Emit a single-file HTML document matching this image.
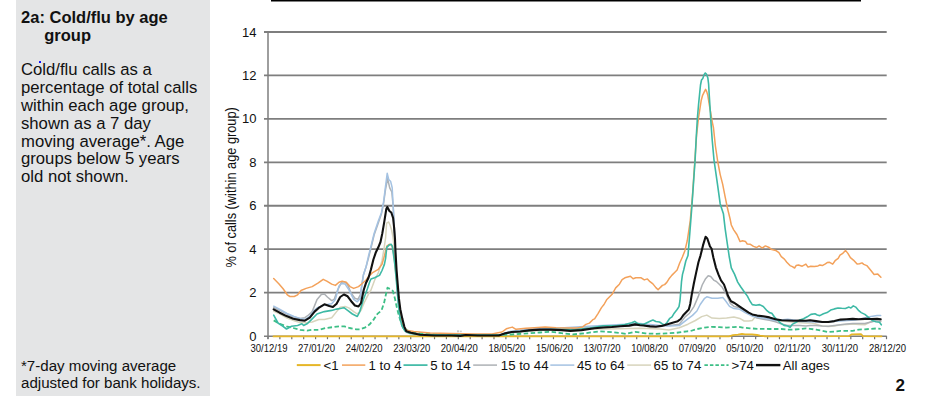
<!DOCTYPE html>
<html><head><meta charset="utf-8"><style>
html,body{margin:0;padding:0;background:#fff;}
body{width:926px;height:410px;position:relative;overflow:hidden;font-family:"Liberation Sans",Arial,sans-serif;color:#111;}
.side{position:absolute;left:16px;top:0;width:194px;height:396px;background:#E4E5E6;}
.t{position:absolute;left:5.1px;top:8.4px;font-weight:bold;font-size:16.5px;line-height:18px;width:186px;}
.t .g{display:block;padding-left:23.2px;}
.b{position:absolute;left:5px;top:61.1px;font-size:16.7px;line-height:17.88px;width:200px;white-space:nowrap;}
.f{position:absolute;left:5px;top:356.9px;font-size:15.1px;line-height:17.6px;width:200px;white-space:nowrap;}
.dot{position:absolute;left:22.5px;top:60.5px;width:2px;height:2px;background:#0000ff;border-radius:0.5px;}
svg{position:absolute;left:0;top:0;}
svg text{font-family:"Liberation Sans",Arial,sans-serif;fill:#111;}
.yl{font-size:13px;}
.xl{font-size:11px;}
.lg{font-size:13.2px;}
.yt{font-size:14px;}
.pn{font-size:17px;font-weight:bold;}
</style></head><body>
<div class="side">
<div class="t">2a: Cold/flu by age<span class="g">group</span></div>
<div class="b">Cold/flu calls as a<br>percentage of total calls<br>within each age group,<br>shown as a 7 day<br>moving average*. Age<br>groups below 5 years<br>old not shown.</div>
<div class="dot"></div>
<div class="f">*7-day moving average<br>adjusted for bank holidays.</div>
</div>
<svg width="926" height="410" viewBox="0 0 926 410">
<line x1="264" y1="292.66" x2="886.7" y2="292.66" stroke="#7E7E7E" stroke-width="1.8"/>
<line x1="264" y1="249.21" x2="886.7" y2="249.21" stroke="#7E7E7E" stroke-width="1.8"/>
<line x1="264" y1="205.77" x2="886.7" y2="205.77" stroke="#7E7E7E" stroke-width="1.8"/>
<line x1="264" y1="162.33" x2="886.7" y2="162.33" stroke="#7E7E7E" stroke-width="1.8"/>
<line x1="264" y1="118.89" x2="886.7" y2="118.89" stroke="#7E7E7E" stroke-width="1.8"/>
<line x1="264" y1="75.44" x2="886.7" y2="75.44" stroke="#7E7E7E" stroke-width="1.8"/>
<line x1="264" y1="32.00" x2="886.7" y2="32.00" stroke="#7E7E7E" stroke-width="1.8"/>
<text x="256.5" y="340.70" text-anchor="end" class="yl">0</text>
<text x="256.5" y="297.26" text-anchor="end" class="yl">2</text>
<text x="256.5" y="253.81" text-anchor="end" class="yl">4</text>
<text x="256.5" y="210.37" text-anchor="end" class="yl">6</text>
<text x="256.5" y="166.93" text-anchor="end" class="yl">8</text>
<text x="256.5" y="123.49" text-anchor="end" class="yl">10</text>
<text x="256.5" y="80.04" text-anchor="end" class="yl">12</text>
<text x="256.5" y="36.60" text-anchor="end" class="yl">14</text>
<line x1="268.00" y1="336" x2="268.00" y2="339.2" stroke="#707070" stroke-width="1.2"/>
<line x1="279.89" y1="336" x2="279.89" y2="339.2" stroke="#707070" stroke-width="1.2"/>
<line x1="291.79" y1="336" x2="291.79" y2="339.2" stroke="#707070" stroke-width="1.2"/>
<line x1="303.68" y1="336" x2="303.68" y2="339.2" stroke="#707070" stroke-width="1.2"/>
<line x1="315.58" y1="336" x2="315.58" y2="339.2" stroke="#707070" stroke-width="1.2"/>
<line x1="327.47" y1="336" x2="327.47" y2="339.2" stroke="#707070" stroke-width="1.2"/>
<line x1="339.37" y1="336" x2="339.37" y2="339.2" stroke="#707070" stroke-width="1.2"/>
<line x1="351.26" y1="336" x2="351.26" y2="339.2" stroke="#707070" stroke-width="1.2"/>
<line x1="363.15" y1="336" x2="363.15" y2="339.2" stroke="#707070" stroke-width="1.2"/>
<line x1="375.05" y1="336" x2="375.05" y2="339.2" stroke="#707070" stroke-width="1.2"/>
<line x1="386.94" y1="336" x2="386.94" y2="339.2" stroke="#707070" stroke-width="1.2"/>
<line x1="398.84" y1="336" x2="398.84" y2="339.2" stroke="#707070" stroke-width="1.2"/>
<line x1="410.73" y1="336" x2="410.73" y2="339.2" stroke="#707070" stroke-width="1.2"/>
<line x1="422.62" y1="336" x2="422.62" y2="339.2" stroke="#707070" stroke-width="1.2"/>
<line x1="434.52" y1="336" x2="434.52" y2="339.2" stroke="#707070" stroke-width="1.2"/>
<line x1="446.41" y1="336" x2="446.41" y2="339.2" stroke="#707070" stroke-width="1.2"/>
<line x1="458.31" y1="336" x2="458.31" y2="339.2" stroke="#707070" stroke-width="1.2"/>
<line x1="470.20" y1="336" x2="470.20" y2="339.2" stroke="#707070" stroke-width="1.2"/>
<line x1="482.10" y1="336" x2="482.10" y2="339.2" stroke="#707070" stroke-width="1.2"/>
<line x1="493.99" y1="336" x2="493.99" y2="339.2" stroke="#707070" stroke-width="1.2"/>
<line x1="505.88" y1="336" x2="505.88" y2="339.2" stroke="#707070" stroke-width="1.2"/>
<line x1="517.78" y1="336" x2="517.78" y2="339.2" stroke="#707070" stroke-width="1.2"/>
<line x1="529.67" y1="336" x2="529.67" y2="339.2" stroke="#707070" stroke-width="1.2"/>
<line x1="541.57" y1="336" x2="541.57" y2="339.2" stroke="#707070" stroke-width="1.2"/>
<line x1="553.46" y1="336" x2="553.46" y2="339.2" stroke="#707070" stroke-width="1.2"/>
<line x1="565.36" y1="336" x2="565.36" y2="339.2" stroke="#707070" stroke-width="1.2"/>
<line x1="577.25" y1="336" x2="577.25" y2="339.2" stroke="#707070" stroke-width="1.2"/>
<line x1="589.14" y1="336" x2="589.14" y2="339.2" stroke="#707070" stroke-width="1.2"/>
<line x1="601.04" y1="336" x2="601.04" y2="339.2" stroke="#707070" stroke-width="1.2"/>
<line x1="612.93" y1="336" x2="612.93" y2="339.2" stroke="#707070" stroke-width="1.2"/>
<line x1="624.83" y1="336" x2="624.83" y2="339.2" stroke="#707070" stroke-width="1.2"/>
<line x1="636.72" y1="336" x2="636.72" y2="339.2" stroke="#707070" stroke-width="1.2"/>
<line x1="648.62" y1="336" x2="648.62" y2="339.2" stroke="#707070" stroke-width="1.2"/>
<line x1="660.51" y1="336" x2="660.51" y2="339.2" stroke="#707070" stroke-width="1.2"/>
<line x1="672.40" y1="336" x2="672.40" y2="339.2" stroke="#707070" stroke-width="1.2"/>
<line x1="684.30" y1="336" x2="684.30" y2="339.2" stroke="#707070" stroke-width="1.2"/>
<line x1="696.19" y1="336" x2="696.19" y2="339.2" stroke="#707070" stroke-width="1.2"/>
<line x1="708.09" y1="336" x2="708.09" y2="339.2" stroke="#707070" stroke-width="1.2"/>
<line x1="719.98" y1="336" x2="719.98" y2="339.2" stroke="#707070" stroke-width="1.2"/>
<line x1="731.88" y1="336" x2="731.88" y2="339.2" stroke="#707070" stroke-width="1.2"/>
<line x1="743.77" y1="336" x2="743.77" y2="339.2" stroke="#707070" stroke-width="1.2"/>
<line x1="755.66" y1="336" x2="755.66" y2="339.2" stroke="#707070" stroke-width="1.2"/>
<line x1="767.56" y1="336" x2="767.56" y2="339.2" stroke="#707070" stroke-width="1.2"/>
<line x1="779.45" y1="336" x2="779.45" y2="339.2" stroke="#707070" stroke-width="1.2"/>
<line x1="791.35" y1="336" x2="791.35" y2="339.2" stroke="#707070" stroke-width="1.2"/>
<line x1="803.24" y1="336" x2="803.24" y2="339.2" stroke="#707070" stroke-width="1.2"/>
<line x1="815.13" y1="336" x2="815.13" y2="339.2" stroke="#707070" stroke-width="1.2"/>
<line x1="827.03" y1="336" x2="827.03" y2="339.2" stroke="#707070" stroke-width="1.2"/>
<line x1="838.92" y1="336" x2="838.92" y2="339.2" stroke="#707070" stroke-width="1.2"/>
<line x1="850.82" y1="336" x2="850.82" y2="339.2" stroke="#707070" stroke-width="1.2"/>
<line x1="862.71" y1="336" x2="862.71" y2="339.2" stroke="#707070" stroke-width="1.2"/>
<line x1="874.61" y1="336" x2="874.61" y2="339.2" stroke="#707070" stroke-width="1.2"/>
<line x1="886.50" y1="336" x2="886.50" y2="339.2" stroke="#707070" stroke-width="1.2"/>
<text transform="translate(269.00,351.6) scale(0.865,1)" text-anchor="middle" class="xl">30/12/19</text>
<text transform="translate(316.58,351.6) scale(0.865,1)" text-anchor="middle" class="xl">27/01/20</text>
<text transform="translate(364.15,351.6) scale(0.865,1)" text-anchor="middle" class="xl">24/02/20</text>
<text transform="translate(411.73,351.6) scale(0.865,1)" text-anchor="middle" class="xl">23/03/20</text>
<text transform="translate(459.31,351.6) scale(0.865,1)" text-anchor="middle" class="xl">20/04/20</text>
<text transform="translate(506.88,351.6) scale(0.865,1)" text-anchor="middle" class="xl">18/05/20</text>
<text transform="translate(554.46,351.6) scale(0.865,1)" text-anchor="middle" class="xl">15/06/20</text>
<text transform="translate(602.04,351.6) scale(0.865,1)" text-anchor="middle" class="xl">13/07/20</text>
<text transform="translate(649.62,351.6) scale(0.865,1)" text-anchor="middle" class="xl">10/08/20</text>
<text transform="translate(697.19,351.6) scale(0.865,1)" text-anchor="middle" class="xl">07/09/20</text>
<text transform="translate(744.77,351.6) scale(0.865,1)" text-anchor="middle" class="xl">05/10/20</text>
<text transform="translate(792.35,351.6) scale(0.865,1)" text-anchor="middle" class="xl">02/11/20</text>
<text transform="translate(839.92,351.6) scale(0.865,1)" text-anchor="middle" class="xl">30/11/20</text>
<text transform="translate(887.50,351.6) scale(0.865,1)" text-anchor="middle" class="xl">28/12/20</text>
<line x1="264" y1="336.3" x2="886.7" y2="336.3" stroke="#7E7E7E" stroke-width="1.6"/>
<line x1="268" y1="31.3" x2="268" y2="339" stroke="#7E7E7E" stroke-width="1.5"/>
<polyline points="273.5,336.4 500.0,336.4 729.0,336.3 733.0,335.2 738.0,334.6 742.0,333.9 745.0,334.4 752.0,334.4 757.0,335.0 760.0,335.7 765.0,336.3 849.0,336.1 851.5,334.4 861.0,334.2 863.0,336.1 881.5,336.3" fill="none" stroke="#E6B628" stroke-width="1.8" stroke-linejoin="round" stroke-linecap="round"/>
<polyline points="273.7,311.0 280.0,314.0 287.0,318.0 295.0,321.0 300.0,322.5 306.0,322.7 312.2,322.0 318.8,319.5 324.4,319.5 331.7,317.7 336.6,311.6 340.2,307.3 345.1,306.5 348.8,307.9 353.7,311.6 357.3,314.0 361.0,310.4 364.6,301.8 369.5,292.1 371.0,290.0 374.6,280.2 378.3,272.9 382.0,260.7 383.8,249.8 385.6,238.0 386.6,223.1 388.7,222.0 390.2,225.5 391.6,230.0 392.8,236.0 393.8,244.0 394.7,252.0 395.6,263.0 396.5,275.0 397.5,288.0 398.7,300.0 400.2,312.0 402.2,322.0 405.0,330.0 412.0,333.5 450.0,334.8 500.0,335.0 510.0,332.5 530.0,331.0 560.0,329.5 600.0,329.0 620.5,328.8 640.0,328.3 660.0,329.0 669.0,330.0 679.3,327.8 688.0,324.2 695.4,320.5 701.7,316.6 706.8,315.1 712.0,318.1 719.3,318.4 726.6,318.1 733.9,316.9 739.8,318.4 744.2,321.0 748.7,321.1 752.3,320.5 754.8,317.4 759.6,317.4 769.4,319.3 781.6,321.1 793.8,322.3 806.0,322.9 810.0,322.7 816.1,324.1 822.2,326.0 828.3,326.6 834.4,326.0 840.5,324.8 846.6,324.4 852.7,324.1 858.8,324.4 864.9,324.8 871.0,321.7 877.1,320.2 880.7,321.7" fill="none" stroke="#D7D4BC" stroke-width="1.5" stroke-linejoin="round" stroke-linecap="round"/>
<polyline points="273.7,307.5 280.0,310.5 287.0,314.0 294.0,317.0 300.0,318.5 304.9,317.7 308.5,315.0 312.2,311.6 317.1,299.4 321.3,294.5 324.4,293.9 327.4,297.0 331.7,300.6 334.1,299.4 337.8,289.6 341.5,282.3 344.5,281.7 347.6,284.8 351.2,293.3 354.9,298.2 357.9,299.4 360.4,294.5 362.2,282.3 363.4,275.0 366.0,267.0 368.5,258.0 371.0,248.0 374.1,235.0 378.3,223.0 381.4,214.0 383.5,204.0 385.6,189.0 387.6,178.5 389.7,187.8 391.8,192.0 393.2,206.5 394.3,227.2 395.3,250.0 396.5,275.0 398.0,300.0 400.0,318.0 403.0,328.0 407.0,332.5 420.0,334.5 450.0,335.0 500.0,335.0 510.0,332.0 530.0,330.0 560.0,329.0 600.0,327.5 640.0,325.0 660.0,326.0 670.0,325.5 679.3,324.2 685.1,316.9 689.5,313.2 693.9,306.6 698.3,296.4 702.2,285.0 705.6,278.7 708.2,275.8 710.7,276.4 714.1,280.4 716.4,281.5 719.0,284.0 722.2,287.3 726.6,294.6 730.3,303.4 733.9,306.4 739.8,307.8 745.6,311.5 750.0,314.4 757.2,318.0 763.3,319.3 769.4,320.2 775.5,321.7 781.6,324.1 787.7,325.4 793.8,325.4 799.9,325.6 806.0,326.0 810.0,325.4 816.1,325.4 822.2,326.0 828.3,326.3 834.4,325.6 840.5,324.8 846.6,324.1 852.7,323.5 858.8,323.5 864.9,323.5 871.0,322.0 877.1,320.5 880.7,321.1" fill="none" stroke="#ADB1B5" stroke-width="1.5" stroke-linejoin="round" stroke-linecap="round"/>
<polyline points="273.7,306.2 280.0,309.5 287.0,313.5 294.0,316.5 300.0,318.5 305.0,319.5 310.0,316.0 314.0,310.5 317.0,308.0 324.4,304.9 331.7,303.7 335.4,299.4 339.0,286.0 341.5,283.5 345.1,284.1 348.8,289.6 353.7,299.4 357.3,301.8 360.4,298.2 361.6,287.2 363.4,275.0 366.1,266.8 368.5,255.9 371.0,246.1 374.1,233.5 378.3,221.0 381.4,212.7 383.5,202.3 385.6,185.7 387.2,173.3 388.7,179.5 390.7,181.6 392.2,187.8 393.2,206.5 394.3,227.2 395.3,250.0 396.3,275.0 397.5,295.0 399.0,310.0 401.0,320.0 404.0,328.0 408.0,332.0 420.0,334.3 450.0,335.0 500.0,335.0 510.0,331.5 530.0,329.0 560.0,327.9 597.1,325.7 640.0,323.5 660.0,325.5 670.0,326.0 679.3,325.6 686.6,319.8 692.5,315.4 696.9,311.0 700.2,304.5 704.6,298.3 706.8,296.8 712.0,298.3 717.8,298.3 723.0,297.6 725.9,301.2 729.5,306.4 733.9,308.6 739.8,309.3 745.6,312.9 752.3,316.2 763.3,318.0 775.5,320.5 787.7,319.3 793.8,319.9 799.9,321.5 815.0,322.0 822.0,322.0 840.0,321.0 855.0,320.0 864.9,318.0 871.0,316.6 877.1,315.6 880.7,315.6" fill="none" stroke="#A4C2E2" stroke-width="1.5" stroke-linejoin="round" stroke-linecap="round"/>
<polyline points="273.7,320.4 279.7,323.8 286.5,326.3 293.3,328.0 300.1,329.8 307.0,330.6 312.0,329.8 318.8,329.8 325.7,328.0 332.5,327.2 339.3,326.3 344.4,326.3 349.6,328.0 356.4,329.4 360.0,329.3 365.4,327.3 369.4,324.6 373.4,319.9 377.4,313.9 381.5,310.5 384.2,302.4 386.2,293.1 387.5,287.7 390.2,289.0 392.9,291.0 394.9,298.4 396.9,307.8 398.9,315.9 401.6,323.9 404.3,328.0 408.3,331.3 420.0,333.3 440.0,334.5 480.0,335.0 500.0,335.0 507.4,334.7 523.6,333.6 539.8,332.5 550.6,331.8 561.4,333.1 573.0,334.4 585.9,333.1 598.9,331.4 607.5,331.8 620.5,333.1 625.7,333.9 635.0,331.8 645.4,333.4 655.7,333.8 666.1,333.4 676.5,332.8 686.9,331.3 690.0,331.2 697.3,329.0 704.6,327.6 712.0,326.9 719.3,327.1 726.6,327.6 733.9,327.1 738.3,326.6 742.7,327.6 750.0,328.3 757.2,328.8 769.4,329.0 781.6,329.0 787.7,329.6 793.8,329.6 799.9,329.0 806.0,328.4 810.0,328.8 816.1,329.6 822.2,330.9 828.3,332.1 834.4,331.5 840.5,330.9 852.7,330.9 858.8,329.6 864.9,329.3 871.0,328.8 877.1,328.4 880.7,328.8" fill="none" stroke="#3DBF86" stroke-width="1.8" stroke-linejoin="round" stroke-dasharray="4.5 2.5" stroke-linecap="butt"/>
<polyline points="273.7,278.5 278.8,283.7 283.1,288.8 287.3,294.8 289.9,296.5 294.2,296.5 297.6,294.8 301.0,290.5 306.1,288.4 312.2,286.6 318.3,282.9 323.2,279.3 326.8,281.1 331.7,284.1 335.4,285.4 339.0,282.3 342.1,281.1 346.3,282.3 350.0,286.6 353.7,288.4 358.5,286.6 362.2,283.5 365.9,280.3 368.5,276.6 372.2,272.9 378.3,269.3 382.0,264.4 384.4,255.9 386.8,246.1 389.3,244.3 391.1,244.9 392.5,247.0 394.0,256.0 395.3,268.0 396.6,280.0 398.0,293.0 399.5,306.0 401.5,318.0 403.5,326.0 406.5,330.3 413.7,331.5 430.2,332.9 450.0,333.6 475.0,334.0 492.0,334.0 502.0,332.0 506.3,328.8 512.3,327.1 516.0,329.3 525.8,328.2 534.4,327.7 545.2,327.1 556.0,327.7 566.9,327.9 577.3,327.9 582.5,327.0 585.9,324.4 589.4,323.1 592.8,319.7 594.6,318.8 598.0,313.6 601.5,307.6 604.0,304.5 606.6,299.8 612.1,294.3 615.7,287.9 619.4,284.2 622.1,279.6 624.9,277.8 630.4,276.3 633.1,278.7 635.8,277.8 641.2,277.8 644.3,279.9 647.4,278.9 650.0,281.7 652.9,283.9 655.9,287.6 658.1,289.8 660.2,287.6 662.4,285.4 664.6,284.6 666.8,282.4 669.0,278.8 672.0,275.1 674.9,272.2 677.1,270.0 679.6,263.3 682.4,257.0 684.9,250.7 687.3,240.5 690.2,221.0 692.4,196.6 694.9,160.0 696.6,135.0 698.5,118.0 700.2,107.0 701.2,100.5 702.6,95.3 704.4,91.6 705.6,89.4 706.7,91.6 707.8,95.3 709.2,104.1 710.7,112.9 712.2,121.6 713.5,128.0 715.4,146.0 717.8,162.0 720.2,174.6 722.7,184.4 725.1,196.6 727.6,208.8 730.0,218.5 731.3,225.0 733.7,229.8 736.9,234.5 740.1,241.6 742.4,240.8 745.6,241.6 747.2,244.0 750.4,244.3 753.5,246.4 756.7,247.5 759.1,245.9 762.2,248.0 765.4,245.9 768.6,247.2 771.8,249.6 775.7,250.4 778.9,252.7 781.3,256.7 784.4,259.1 786.8,262.2 790.0,265.6 792.4,266.6 794.6,268.0 796.1,265.6 798.5,265.0 802.2,266.2 805.9,264.1 808.0,267.1 810.7,266.2 814.4,266.6 818.0,265.9 819.9,265.0 822.3,265.6 825.4,263.8 827.2,262.6 829.6,262.3 832.7,264.1 835.1,260.7 838.2,258.3 840.0,255.2 842.4,253.7 845.5,250.4 847.9,253.4 850.4,257.7 853.4,260.1 857.1,264.1 859.5,263.8 862.0,262.9 863.8,264.4 866.8,265.6 869.9,269.3 874.1,274.5 877.8,274.1 880.9,277.2" fill="none" stroke="#F3A15A" stroke-width="1.5" stroke-linejoin="round" stroke-linecap="round"/>
<polyline points="273.7,315.2 278.0,323.0 283.0,326.3 286.5,329.0 291.6,326.3 297.6,325.5 301.9,323.8 303.6,325.5 307.5,323.5 312.2,318.9 317.0,314.0 324.4,311.6 331.7,310.4 336.6,309.1 341.5,308.2 343.9,307.7 347.6,310.4 352.4,314.0 357.3,316.5 359.8,311.6 363.4,299.4 365.5,294.0 367.3,289.0 369.8,281.5 371.0,279.0 374.6,277.8 379.5,275.4 382.0,270.5 384.4,264.4 385.6,258.3 386.8,247.3 389.3,244.9 391.1,244.3 392.3,246.1 393.5,254.6 394.8,264.4 396.0,276.6 397.2,290.0 398.5,305.0 400.0,318.0 402.0,326.0 405.0,331.0 410.0,333.5 420.0,334.5 450.0,335.0 500.0,335.0 505.0,334.0 512.0,332.0 520.0,331.5 530.0,330.5 545.0,329.5 560.0,329.5 575.0,329.8 590.0,328.0 603.2,325.7 616.2,325.7 625.0,324.5 631.7,322.7 634.7,321.4 637.8,323.6 643.3,324.5 650.0,321.2 652.9,320.0 655.9,321.5 659.5,322.0 662.4,323.9 664.6,324.9 666.8,322.7 669.8,318.3 672.0,316.9 674.2,313.2 677.1,309.5 679.0,306.6 680.0,300.7 680.7,292.0 681.5,281.7 682.5,274.4 683.7,270.0 685.8,261.0 688.0,255.5 689.8,233.2 691.7,208.8 693.4,184.4 695.1,160.0 696.2,138.0 697.4,118.0 698.6,104.0 699.6,94.0 700.5,85.0 701.5,80.0 702.8,78.4 704.1,74.8 705.3,73.0 706.4,74.0 707.8,77.7 708.6,84.0 709.3,96.0 710.2,110.0 711.2,126.0 712.2,140.0 714.0,160.0 717.5,184.4 720.2,203.9 723.4,213.7 725.1,228.3 727.5,245.0 729.2,256.5 731.3,267.8 734.5,274.1 737.7,282.1 740.5,286.5 744.2,291.7 747.4,296.1 749.9,301.0 752.3,304.6 756.0,305.2 759.6,304.6 763.3,306.5 767.0,310.7 769.4,312.6 771.8,313.2 774.3,316.8 776.7,319.3 780.4,322.9 784.0,325.4 787.7,326.0 790.1,327.2 792.6,324.1 796.2,322.3 799.9,319.9 803.5,318.7 807.2,316.8 810.9,314.4 815.0,313.8 817.3,315.0 819.8,315.6 823.4,313.8 827.1,312.6 830.7,310.1 834.4,308.9 838.0,308.0 841.7,308.3 845.4,308.5 849.0,307.1 850.9,308.0 853.3,305.9 855.7,307.1 858.8,310.7 861.2,312.6 864.9,314.4 868.5,317.4 872.2,320.5 875.9,321.7 879.5,322.3 881.3,324.8" fill="none" stroke="#3DB9A5" stroke-width="1.6" stroke-linejoin="round" stroke-linecap="round"/>
<polyline points="273.7,309.3 279.7,312.7 286.5,316.1 293.3,318.7 300.0,320.1 304.9,320.7 309.8,317.7 314.6,311.6 319.5,307.3 324.4,304.3 329.3,306.1 332.9,307.0 336.6,303.7 340.2,297.0 343.9,294.5 347.6,296.3 351.2,301.2 354.9,305.5 358.5,306.5 361.0,303.0 363.7,290.0 366.1,282.7 368.5,277.8 371.0,269.3 373.4,259.5 375.9,252.2 378.3,247.3 380.5,242.0 382.3,233.4 384.3,221.6 386.3,209.0 387.3,207.0 389.4,211.0 391.3,212.5 393.1,218.0 394.1,227.5 395.0,239.2 395.5,252.0 396.6,270.5 397.7,284.0 398.9,298.4 400.3,309.2 402.3,318.6 404.3,326.6 406.3,331.3 411.0,332.7 420.0,334.7 434.6,335.5 451.8,335.5 460.5,335.9 465.7,335.0 477.8,335.5 498.8,335.5 505.2,333.3 511.7,332.0 520.4,331.5 529.0,330.4 539.8,329.6 550.6,329.6 561.4,330.1 570.4,330.9 581.6,330.1 594.6,328.3 603.2,327.5 611.8,327.0 620.5,326.2 629.1,325.6 635.2,324.4 640.0,325.3 643.3,325.5 650.0,326.4 655.9,326.8 661.7,325.9 667.6,324.2 673.4,322.4 677.8,321.2 680.7,319.0 683.7,314.7 686.6,311.7 688.8,309.5 690.3,303.7 691.7,294.9 693.9,283.2 696.1,272.9 698.5,262.0 700.5,255.6 703.0,245.4 705.6,236.8 707.3,238.5 709.9,246.2 711.6,248.8 713.3,257.3 715.9,267.6 718.4,274.4 721.0,280.4 724.0,284.5 726.0,290.0 728.1,296.1 731.0,301.2 733.9,302.7 738.3,305.6 742.7,308.6 745.0,310.1 748.7,312.6 752.3,314.4 757.2,315.6 763.3,316.2 769.4,317.4 775.5,319.3 781.6,320.2 787.7,320.5 793.8,320.7 799.9,320.5 806.0,320.7 810.0,320.3 816.1,321.1 822.2,322.0 828.3,322.0 834.4,321.1 840.5,319.6 846.6,319.3 852.7,318.9 858.8,319.3 864.9,318.9 871.0,319.0 877.1,318.7 880.7,319.3" fill="none" stroke="#111" stroke-width="2.1" stroke-linejoin="round" stroke-linecap="round"/>
<line x1="296.8" y1="365.1" x2="320.6" y2="365.1" stroke="#E6B628" stroke-width="2" />
<text x="323.5" y="370.1" class="lg">&lt;1</text>
<line x1="342" y1="365.1" x2="365.3" y2="365.1" stroke="#F3A15A" stroke-width="1.5" />
<text x="368.6" y="370.1" class="lg">1 to 4</text>
<line x1="403.5" y1="365.1" x2="427.5" y2="365.1" stroke="#3DB9A5" stroke-width="1.7" />
<text x="430.3" y="370.1" class="lg">5 to 14</text>
<line x1="473.2" y1="365.1" x2="497" y2="365.1" stroke="#ADB1B5" stroke-width="1.5" />
<text x="500.8" y="370.1" class="lg">15 to 44</text>
<line x1="550.3" y1="365.1" x2="574.3" y2="365.1" stroke="#A4C2E2" stroke-width="1.5" />
<text x="577" y="370.1" class="lg">45 to 64</text>
<line x1="627.2" y1="365.1" x2="651" y2="365.1" stroke="#D7D4BC" stroke-width="1.5" />
<text x="653.6" y="370.1" class="lg">65 to 74</text>
<line x1="704.4" y1="365.1" x2="728.6" y2="365.1" stroke="#3DBF86" stroke-width="1.8" stroke-dasharray="3.5 2" />
<text x="731.5" y="370.1" class="lg">&gt;74</text>
<line x1="756" y1="365.1" x2="780.4" y2="365.1" stroke="#111" stroke-width="2.4" />
<text x="782.8" y="370.1" class="lg">All ages</text>
<text transform="translate(235.6,267.6) rotate(-90) scale(0.913,1)" class="yt">% of calls (within age group)</text>
<rect x="271" y="0" width="590" height="1.5" fill="#000"/>
<rect x="457.5" y="330.3" width="1" height="2" fill="#9a9a9a"/>
<rect x="459.8" y="330.6" width="2" height="1.6" fill="#cfcfcf"/>
<text x="895.5" y="391.4" class="pn">2</text>
</svg>
</body></html>
